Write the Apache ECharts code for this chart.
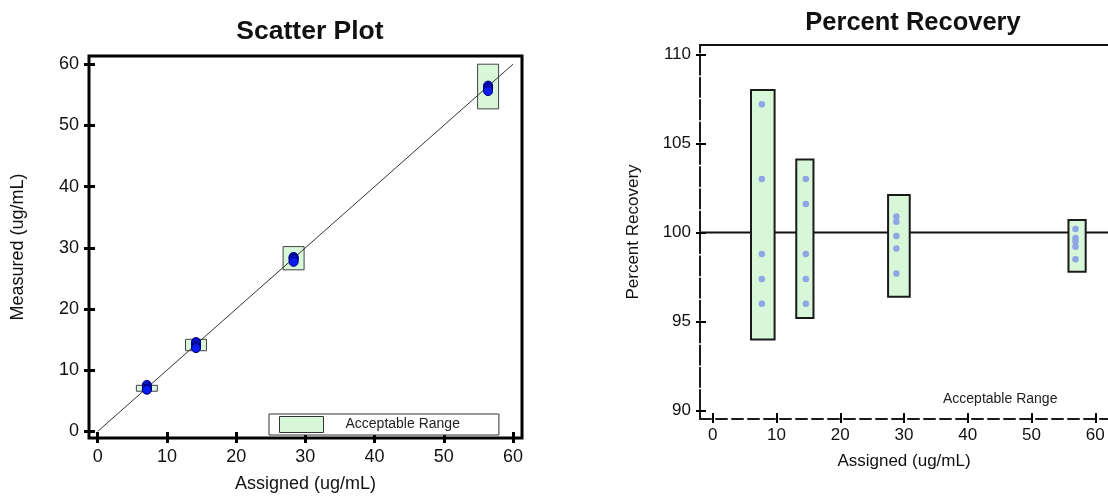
<!DOCTYPE html>
<html>
<head>
<meta charset="utf-8">
<script src="https://cdn.jsdelivr.net/npm/echarts@6/dist/echarts.min.js"></script>
<style>
  html, body { margin: 0; padding: 0; background: #fff; }
  #chart { width: 1108px; height: 498px; }
</style>
</head>
<body>
<div id="chart"></div>
<script>
// ---- Data ----
const assignedTicks = [0, 10, 20, 30, 40, 50, 60];
const measuredTicks = [0, 10, 20, 30, 40, 50, 60];
const recoveryTicks = [90, 95, 100, 105, 110];

// Scatter plot: assigned vs measured (ug/mL)
const assigned = [7.1, 14.2, 28.3, 56.4];
const measured = [
  [7.6, 7.3, 7.0, 6.9, 6.8],
  [14.6, 14.4, 14.0, 13.8, 13.6],
  [28.5, 28.4, 28.2, 28.0, 27.7],
  [56.5, 56.2, 56.1, 55.9, 55.6]
];
const measuredLow = [6.56, 13.18, 26.4, 52.7];
const measuredHigh = [7.53, 15.05, 30.2, 60.0];
const identityLine = [0, 60];

// Percent recovery by assigned level
const recoveryAssigned = [7.7, 14.6, 28.8, 56.9];
const recovery = [
  [107.2, 103.0, 98.8, 97.4, 96.0],
  [103.0, 101.6, 98.8, 97.4, 96.0],
  [100.9, 100.6, 99.8, 99.1, 97.7],
  [100.2, 99.7, 99.5, 99.2, 98.5]
];
const rangeAssignedFrom = [6.0, 13.1, 27.5, 55.8];
const rangeAssignedTo = [9.7, 15.8, 30.9, 58.5];
const recoveryLow = [94.0, 95.2, 96.4, 97.8];
const recoveryHigh = [108.0, 104.1, 102.1, 100.7];
const targetRecovery = 100;

// ---- Chart ----
const FONT = '"Liberation Sans", Arial, Helvetica, sans-serif';
const TEXT = '#111';
const GREEN = '#d8f6d8';

const scatterX = [-1.26, 61.3];
const scatterY = [-1.08, 61.34];
const recX = [-2, 62];
const recY = [89.54, 110.52];

const scatterBoxes = assigned.map((x, i) => [x, measuredLow[i], measuredHigh[i]]);
const scatterPoints = [];
assigned.forEach((x, i) => measured[i].forEach(m => scatterPoints.push([x, m])));

const recBoxes = recoveryAssigned.map((x, i) => [rangeAssignedFrom[i], rangeAssignedTo[i], recoveryLow[i], recoveryHigh[i]]);
const recPoints = [];
recoveryAssigned.forEach((x, i) => recovery[i].forEach(r => recPoints.push([x, r])));

// value axis with everything off; axes stay on the grid edge (no onZero)
function tickAxis(extra) {
  const base = {
    type: 'value',
    splitLine: { show: false },
    axisLabel: { show: false },
    axisTick: { show: false }
  };
  const axis = Object.assign(base, extra);
  axis.axisLine = Object.assign({ show: false }, extra.axisLine || {}, { onZero: false });
  return axis;
}

const chart = echarts.init(document.getElementById('chart'), null, { renderer: 'canvas' });

chart.setOption({
  animation: false,
  backgroundColor: '#fff',
  textStyle: { fontFamily: FONT },
  title: [
    { text: 'Scatter Plot', left: 305, top: 13, textAlign: 'center',
      textStyle: { fontFamily: FONT, fontSize: 26.5, fontWeight: 'bold', color: TEXT } },
    { text: 'Percent Recovery', left: 908, top: 5, textAlign: 'center',
      textStyle: { fontFamily: FONT, fontSize: 25.5, fontWeight: 'bold', color: TEXT } }
  ],
  legend: [
    {
      left: 269, top: 414,
      selectedMode: false,
      backgroundColor: '#fff',
      borderColor: '#333', borderWidth: 1,
      padding: [2, 39, 2, 10],
      itemWidth: 44, itemHeight: 16,
      data: [{ name: 'Acceptable Range', icon: 'rect',
               itemStyle: { color: GREEN, borderColor: '#333', borderWidth: 1 } }],
      textStyle: { fontFamily: FONT, fontSize: 14, color: '#222', padding: [0, 0, 0, 17] }
    },
    {
      left: 937, top: 392,
      selectedMode: false,
      padding: 0,
      itemWidth: 1, itemHeight: 1,
      data: [{ name: 'Acceptable Range', icon: 'rect', itemStyle: { opacity: 0 } }],
      textStyle: { fontFamily: FONT, fontSize: 14, color: '#222' }
    }
  ],
  grid: [
    { left: 89, top: 56, width: 433, height: 387, show: true,
      borderColor: '#000', borderWidth: 3, backgroundColor: 'transparent' },
    { left: 700, top: 45, width: 416, height: 374, show: false }
  ],
  xAxis: [
    // scatter: labels + outward ticks
    tickAxis({
      gridIndex: 0, position: 'bottom', min: scatterX[0], max: scatterX[1],
      axisTick: { show: true, length: 5, customValues: assignedTicks, lineStyle: { color: '#000', width: 3 } },
      axisLabel: { show: true, customValues: assignedTicks, margin: 10, fontSize: 18, fontFamily: FONT, color: TEXT },
      name: 'Assigned (ug/mL)', nameLocation: 'middle', nameGap: 37,
      nameTextStyle: { fontFamily: FONT, fontSize: 18, color: TEXT }
    }),
    // scatter: inward ticks
    tickAxis({
      gridIndex: 0, position: 'bottom', min: scatterX[0], max: scatterX[1],
      axisTick: { show: true, inside: true, length: 6, customValues: assignedTicks, lineStyle: { color: '#000', width: 3 } }
    }),
    // recovery: dashed baseline, labels + outward ticks
    tickAxis({
      gridIndex: 1, position: 'bottom', min: recX[0], max: recX[1],
      axisLine: { show: true, lineStyle: { color: '#1a1a1a', width: 2, type: [11, 5], dashOffset: 0 } },
      axisTick: { show: true, length: 4, customValues: assignedTicks, lineStyle: { color: '#000', width: 2 } },
      axisLabel: { show: true, customValues: assignedTicks, margin: 8, fontSize: 17, fontFamily: FONT, color: TEXT },
      name: 'Assigned (ug/mL)', nameLocation: 'middle', nameGap: 34,
      nameTextStyle: { fontFamily: FONT, fontSize: 17, color: TEXT }
    }),
    // recovery: inward ticks
    tickAxis({
      gridIndex: 1, position: 'bottom', min: recX[0], max: recX[1],
      axisTick: { show: true, inside: true, length: 6, customValues: assignedTicks, lineStyle: { color: '#000', width: 2 } }
    }),
    // recovery: top frame line
    tickAxis({
      gridIndex: 1, position: 'top', min: recX[0], max: recX[1],
      axisLine: { show: true, lineStyle: { color: '#111', width: 2 } }
    })
  ],
  yAxis: [
    tickAxis({
      gridIndex: 0, position: 'left', min: scatterY[0], max: scatterY[1],
      axisTick: { show: true, length: 5, customValues: measuredTicks, lineStyle: { color: '#000', width: 3 } },
      axisLabel: { show: true, customValues: measuredTicks, margin: 10, fontSize: 18, fontFamily: FONT, color: TEXT },
      name: 'Measured (ug/mL)', nameLocation: 'middle', nameGap: 62, nameRotate: 90,
      nameTextStyle: { fontFamily: FONT, fontSize: 18, color: TEXT }
    }),
    tickAxis({
      gridIndex: 0, position: 'left', min: scatterY[0], max: scatterY[1],
      axisTick: { show: true, inside: true, length: 6, customValues: measuredTicks, lineStyle: { color: '#000', width: 3 } }
    }),
    tickAxis({
      gridIndex: 1, position: 'left', min: recY[0], max: recY[1],
      axisLine: { show: true, lineStyle: { color: '#1a1a1a', width: 2, type: [19.3, 3], dashOffset: 12.6 } },
      axisTick: { show: true, length: 4, customValues: recoveryTicks, lineStyle: { color: '#000', width: 2 } },
      axisLabel: { show: true, customValues: recoveryTicks, margin: 9, fontSize: 17, fontFamily: FONT, color: TEXT },
      name: 'Percent Recovery', nameLocation: 'middle', nameGap: 58, nameRotate: 90,
      nameTextStyle: { fontFamily: FONT, fontSize: 17, color: TEXT }
    }),
    tickAxis({
      gridIndex: 1, position: 'left', min: recY[0], max: recY[1],
      axisTick: { show: true, inside: true, length: 6, customValues: recoveryTicks, lineStyle: { color: '#000', width: 2 } }
    })
  ],
  series: [
    {
      name: 'Acceptable Range',
      type: 'custom',
      xAxisIndex: 0, yAxisIndex: 0,
      z: 2,
      data: scatterBoxes,
      encode: { x: 0, y: [1, 2] },
      renderItem(params, api) {
        const hi = api.coord([api.value(0), api.value(2)]);
        const lo = api.coord([api.value(0), api.value(1)]);
        const w = 21;
        return {
          type: 'rect',
          shape: { x: hi[0] - w / 2, y: hi[1], width: w, height: lo[1] - hi[1] },
          style: { fill: GREEN, stroke: '#444', lineWidth: 1 }
        };
      }
    },
    {
      name: 'Identity',
      type: 'line',
      xAxisIndex: 0, yAxisIndex: 0,
      z: 3,
      symbol: 'none',
      silent: true,
      data: identityLine.map(v => [v, v]),
      lineStyle: { color: '#333', width: 1 }
    },
    {
      name: 'Measured',
      type: 'scatter',
      xAxisIndex: 0, yAxisIndex: 0,
      z: 4,
      symbol: 'circle',
      symbolSize: 9,
      data: scatterPoints,
      itemStyle: { color: '#0b1cf2', borderColor: '#00007a', borderWidth: 1, opacity: 1 }
    },
    {
      name: 'Target',
      type: 'line',
      xAxisIndex: 2, yAxisIndex: 2,
      z: 1,
      symbol: 'none',
      silent: true,
      data: [[recX[0], targetRecovery], [recX[1], targetRecovery]],
      lineStyle: { color: '#111', width: 2 }
    },
    {
      name: 'Acceptable Range',
      type: 'custom',
      xAxisIndex: 2, yAxisIndex: 2,
      z: 2,
      data: recBoxes,
      encode: { x: [0, 1], y: [2, 3] },
      renderItem(params, api) {
        const tl = api.coord([api.value(0), api.value(3)]);
        const br = api.coord([api.value(1), api.value(2)]);
        return {
          type: 'rect',
          shape: { x: tl[0], y: tl[1], width: br[0] - tl[0], height: br[1] - tl[1] },
          style: { fill: GREEN, stroke: '#1a1a1a', lineWidth: 2 }
        };
      }
    },
    {
      name: 'Recovery',
      type: 'scatter',
      xAxisIndex: 2, yAxisIndex: 2,
      z: 4,
      symbol: 'circle',
      symbolSize: 6.5,
      data: recPoints,
      itemStyle: { color: '#8ea6e4', opacity: 1 }
    }
  ]
});
</script>
</body>
</html>
